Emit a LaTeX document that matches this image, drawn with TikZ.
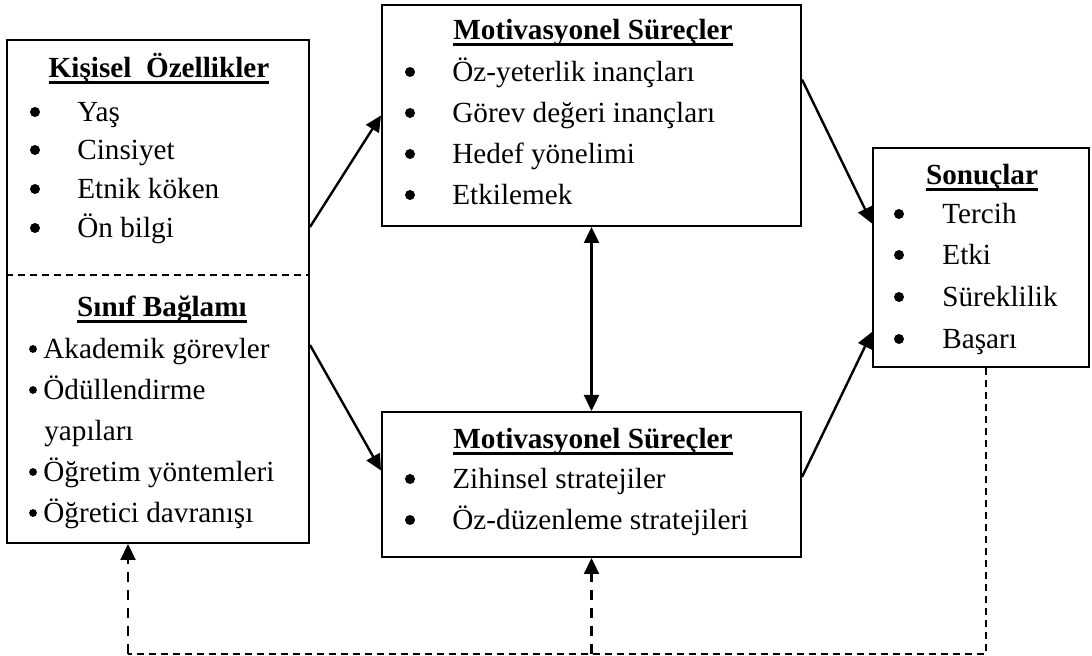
\documentclass[tikz,border=0pt]{standalone}
\usepackage{fontspec}
\setmainfont{Liberation Serif}
\usetikzlibrary{arrows.meta}
\newcommand{\cizgili}[1]{\setbox0\hbox{#1}\rlap{\rule[-3.1pt]{\wd0}{1.2pt}}\box0}
\tikzset{
  kutu/.style={draw, line width=1pt, inner sep=0pt},
  yazi/.style={inner sep=0pt, text height=0.66em, text depth=0pt, font=\fontsize{14.6}{18}\selectfont},
  baslik/.style={yazi, font=\fontsize{14.6}{18}\selectfont\bfseries},
  isaret/.style={circle, fill, inner sep=0pt, minimum size=5pt, yshift=1.5pt},
  kucukisaret/.style={isaret, minimum size=3.9pt},
  ok/.style={->, line width=1.2pt},
  kesik/.style={line width=0.9pt, dash pattern=on 3.5pt off 2.5pt},
  kesikok/.style={->, line width=1.1pt, dash pattern=on 5pt off 4pt}
}
\begin{document}
\begin{tikzpicture}[x=0.5pt, y=-0.5pt, >={Triangle[length=8pt,width=7.5pt]}]
  \useasboundingbox (0,0) rectangle (1092,656);
  \node[kutu, minimum width=151pt, minimum height=251.5pt] (kisisel) at (158,291.5) {};
  \node[kutu, minimum width=209.5pt, minimum height=110.5pt] (motiv1) at (591.5,115.5) {};
  \node[kutu, minimum width=209.5pt, minimum height=72.5pt] (motiv2) at (591.5,484.5) {};
  \node[kutu, minimum width=108pt, minimum height=109.5pt] (sonuc) at (981,257.5) {};

  \coordinate (ayrac) at (0,275);
  \draw[kesik] (kisisel.west |- ayrac) -- (kisisel.east |- ayrac);

  \node[baslik] (kb) at (159,71) {\cizgili{Kişisel\ \ Özellikler}};
  \foreach \metin/\y [count=\i] in {Yaş/115, Cinsiyet/153, Etnik köken/192, Ön bilgi/231} {
    \node[isaret] (kn\i) at (35,\y) {};
    \node[yazi, anchor=west] (k\i) at (77,\y) {\metin};
  }

  \node[baslik] (sb) at (162,310) {\cizgili{Sınıf Bağlamı}};
  \foreach \metin/\y [count=\i] in {Akademik görevler/352, Ödüllendirme/393, Öğretim yöntemleri/475, Öğretici davranışı/516} {
    \node[kucukisaret] (sn\i) at (33,\y) {};
    \node[yazi, anchor=west] (s\i) at (43,\y) {\metin};
  }
  \node[yazi, anchor=west] (s5) at (44,434) {yapıları};

  \node[baslik] (m1b) at (593,33) {\cizgili{Motivasyonel Süreçler}};
  \foreach \metin/\y [count=\i] in {Öz-yeterlik inançları/75, Görev değeri inançları/116, Hedef yönelimi/157, Etkilemek/198} {
    \node[isaret] (mn\i) at (410,\y) {};
    \node[yazi, anchor=west] (m\i) at (452,\y) {\metin};
  }

  \node[baslik] (m2b) at (593,442) {\cizgili{Motivasyonel Süreçler}};
  \foreach \metin/\y [count=\i] in {Zihinsel stratejiler/482, Öz-düzenleme stratejileri/523} {
    \node[isaret] (zn\i) at (410,\y) {};
    \node[yazi, anchor=west] (z\i) at (452,\y) {\metin};
  }

  \node[baslik] (sob) at (982,178) {\cizgili{Sonuçlar}};
  \foreach \metin/\y [count=\i] in {Tercih/217, Etki/258, Süreklilik/300, Başarı/342} {
    \node[isaret] (on\i) at (899,\y) {};
    \node[yazi, anchor=west] (o\i) at (942,\y) {\metin};
  }

  \draw[ok] (kisisel.east |- motiv1.south) -- (motiv1.west);
  \draw[ok] ([yshift=-26.75pt]kisisel.east) -- ([yshift=7pt]motiv2.west);
  \draw[ok] ([yshift=18pt]motiv1.east) -- ([yshift=17pt]sonuc.west);
  \draw[ok] ([yshift=3.75pt]motiv2.east) -- ([yshift=-37.25pt]sonuc.west);
  \draw[ok, <->] (motiv1.south) -- (motiv2.north);

  \coordinate (geri) at (128,654);
  \draw[kesik] ([xshift=2.5pt]sonuc.south) |- (geri);
  \draw[kesikok] (geri) -- (geri |- kisisel.south);
  \draw[kesikok] (motiv2.south |- geri) -- (motiv2.south);
\end{tikzpicture}
\end{document}
